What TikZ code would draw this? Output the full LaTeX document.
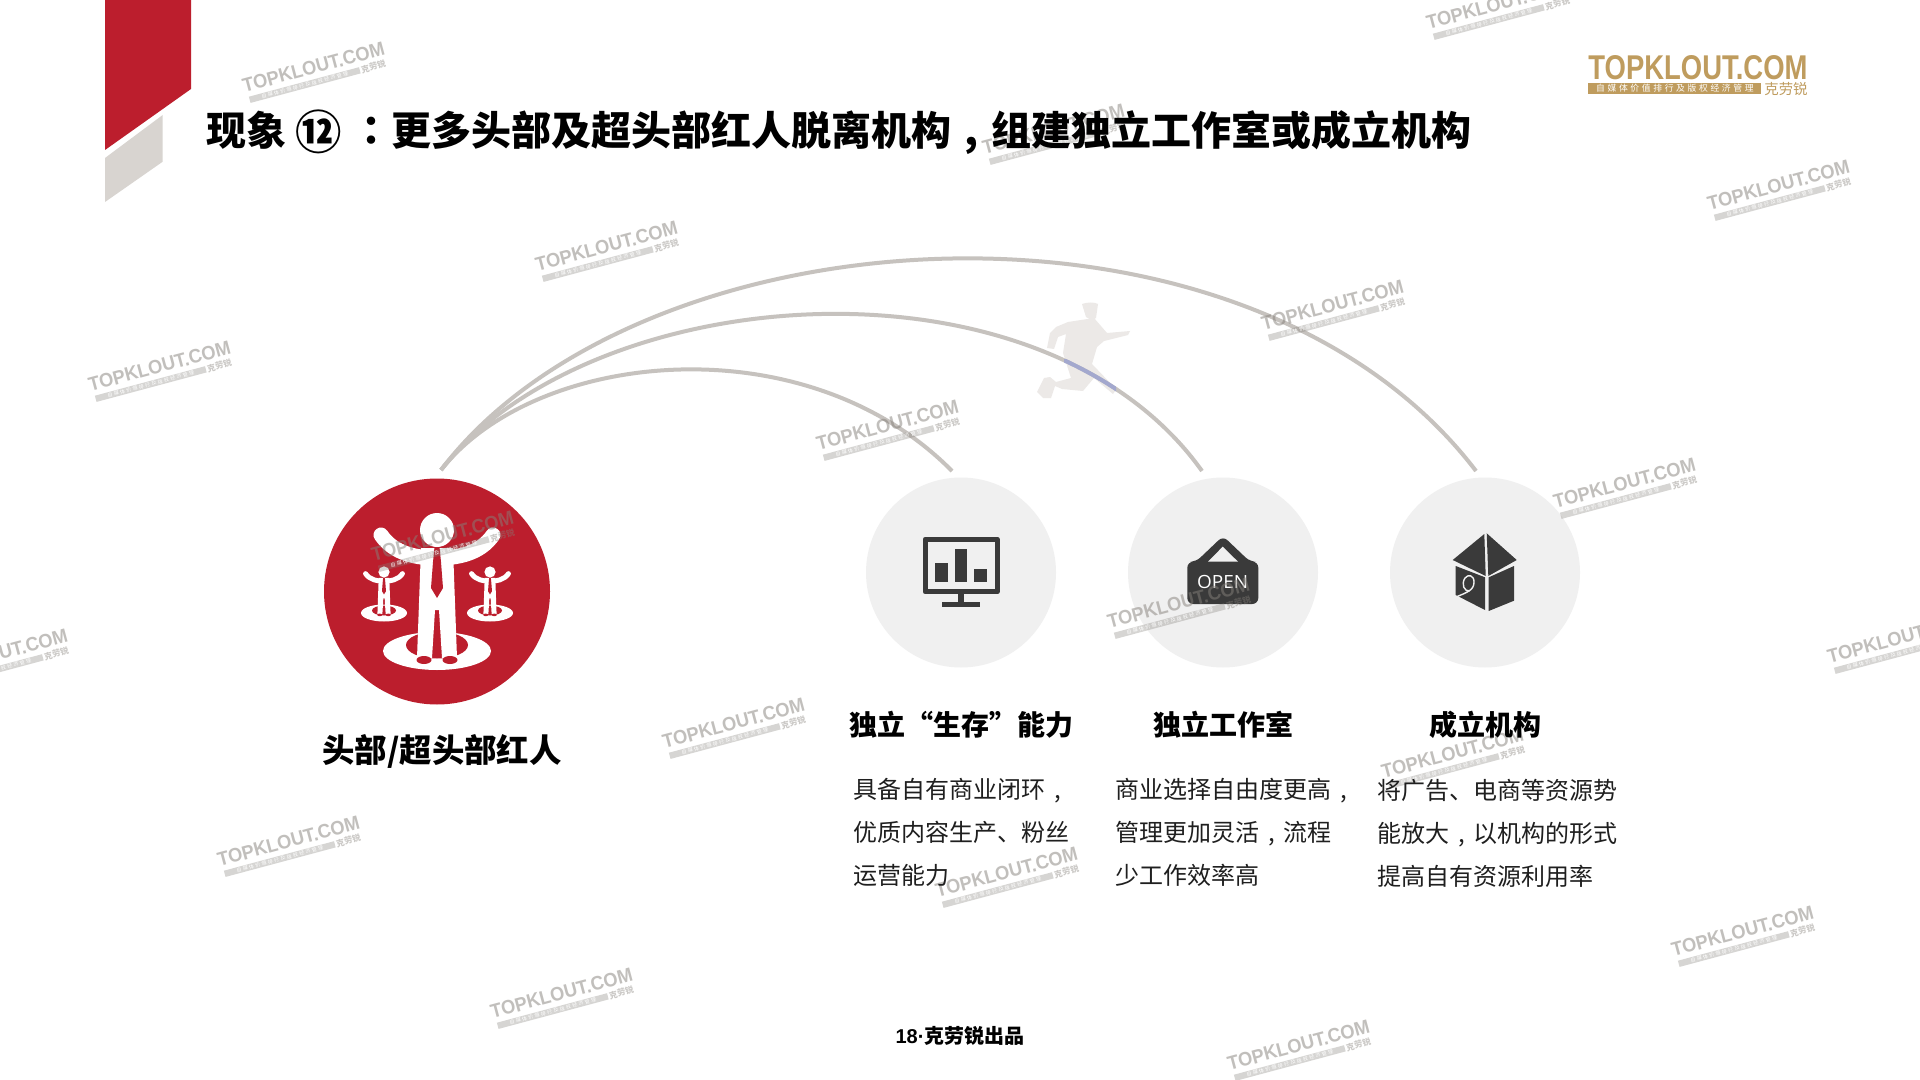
\documentclass[tikz,border=0pt]{standalone}
\usepackage{fontspec}
\setmainfont{Noto Sans CJK SC}
\newfontfamily\tcfont{Noto Sans CJK TC}
\newfontfamily\spacedcn{Noto Sans CJK SC}[LetterSpace=30]
\newfontfamily\latinbold{Liberation Sans}[BoldFont={Liberation Sans Bold}]
\newfontfamily\openfont{Open Sans}
\definecolor{brandred}{HTML}{BC1E2D}
\definecolor{paleband}{HTML}{D8D4D0}
\definecolor{arcgrey}{HTML}{C6C2BE}
\definecolor{discgrey}{HTML}{F0F0F0}
\definecolor{icondark}{HTML}{3A3A3A}
\definecolor{gold}{HTML}{BF9C5E}
\definecolor{markgrey}{HTML}{85807A}
\definecolor{runner}{HTML}{ECE9E7}
\definecolor{runnerblue}{HTML}{A3A8CE}
\newcommand{\fs}[2]{\fontsize{#1}{#2}\selectfont}
\newcommand{\pc}{\makebox[1em][c]{,}}
\tikzset{
  x=0.5pt,y=-0.5pt,
  bigdisc/.style={circle,fill=brandred,minimum size=113pt,inner sep=0pt},
  greydisc/.style={circle,fill=discgrey,minimum size=95pt,inner sep=0pt},
  linkarc/.style={draw=arcgrey,line width=2pt},
  heading/.style={font=\bfseries\fs{14}{18},text=black,inner sep=0pt},
  bodytext/.style={font=\fs{12}{21.4},text=black!88,align=left,anchor=north west,inner sep=0pt},
  iconfill/.style={fill=icondark,draw=none},
}
\newcommand{\wmark}[3]{%
  \begin{scope}[shift={(#2+2,#3)},rotate=15,transform shape]
    \node[inner sep=0pt,text=markgrey,opacity=.5] (wt#1) at (0,-6) {\resizebox{73pt}{6.8pt}{\latinbold\bfseries TOPKLOUT.COM}};
    \node[inner sep=0pt,fill=markgrey,opacity=.33,minimum width=57pt,minimum height=3.2pt] (wb#1) at (-13,9) {};
    \node[inner sep=0pt,text=white,font=\spacedcn\fs{2.5}{3}] (wd#1) at (-13,9) {自媒体价值排行及版权经济管理};
    \node[inner sep=0pt,text=markgrey,opacity=.42,font=\bfseries\fs{4.2}{5}] (wc#1) at (58,9) {克劳锐};
  \end{scope}}
\newcommand{\person}[3]{%
  \begin{scope}[shift={(#1,#2)},scale=#3]
    \draw[white,line width={7.5pt*#3},line cap=round]
      (-56,5) .. controls (-43,24) and (-20,28) .. (0,28) .. controls (20,28) and (43,24) .. (56,5);
    \fill[white] (-16,18) -- (16,18) -- (20,128) -- (5,128) -- (2,80) -- (-2,80) -- (-5,128) -- (-20,128) -- cycle;
    \fill[brandred] (-13,130) ellipse [x radius=7.5,y radius=4];
    \fill[brandred] (13,130) ellipse [x radius=7.5,y radius=4];
    \fill[brandred] (-2.5,17) -- (2.5,17) -- (4,32) -- (6,58) -- (0,68) -- (-6,58) -- (-4,32) -- cycle;
    \fill[white] (0,0) circle [radius=17];
  \end{scope}}
\newcommand{\arcone}{(441,470) .. controls (535,350) and (805,322) .. (c1top)}
\newcommand{\arctwo}{(441,470) .. controls (590,280) and (1040,244) .. (c2top)}
\newcommand{\arcthree}{(441,470) .. controls (640,208) and (1245,168) .. (c3top)}
\begin{document}
\begin{tikzpicture}
\path[use as bounding box,fill=white] (0,0) rectangle (1920,1080);
\clip (0,0) rectangle (1920,1080);

% corner bands
\fill[brandred] (105,0) -- (191,0) -- (191,89) -- (105,150) -- cycle;
\fill[paleband] (105,158) -- (162.7,115) -- (162.7,161.7) -- (105,202) -- cycle;

% runner
\fill[runner] (1082,304) .. controls (1088,302) and (1094,302) .. (1098,304) -- (1096,318) .. controls (1094,320) and (1090,320) .. (1086,317) -- cycle;
\fill[runner] (1068,322) -- (1094,318) -- (1107,333) -- (1130,331) -- (1128,335) -- (1104,341) -- (1097,347) -- (1092,364) -- (1115,388) -- (1118,387) -- (1113,394) -- (1094,378) -- (1088,385) -- (1083,391) -- (1062,389) -- (1055,386) -- (1051,398) -- (1043,398) -- (1037,392) -- (1044,378) -- (1050,377) -- (1056,382) -- (1071,378) -- (1063,353) -- (1066,334) -- (1058,337) -- (1054,349) -- (1047,348) -- (1050,333) -- (1056,327) -- cycle;

% connector arcs
\node[bigdisc] (root) at (437,591.5) {};
\node[greydisc] (c1) at (961,572.5) {};
\node[greydisc] (c2) at (1223,572.5) {};
\node[greydisc] (c3) at (1485,572.5) {};
\coordinate (c1top) at (952,471);
\coordinate (c2top) at (1202,471);
\coordinate (c3top) at (1476,471);
\draw[linkarc] \arcone;
\draw[linkarc] \arctwo;
\draw[linkarc] \arcthree;
\begin{scope}
  \clip (1064,360) rectangle (1116,396);
  \draw[draw=runnerblue,line width=2pt] \arctwo;
\end{scope}

% central figures
\fill[white] (437,651) ellipse [x radius=54,y radius=19];
\fill[brandred] (437,645) ellipse [x radius=31,y radius=13.5];
\person{437}{530}{1}
\fill[white] (384,613) ellipse [x radius=23,y radius=8.5];
\fill[brandred] (384,610.5) ellipse [x radius=12,y radius=5];
\person{384}{572}{.33}
\fill[white] (490,613) ellipse [x radius=23,y radius=8.5];
\fill[brandred] (490,610.5) ellipse [x radius=12,y radius=5];
\person{490}{572}{.33}

% monitor icon
\draw[icondark,line width=2.5pt,line join=round] (925,539.2) rectangle (997.2,591.8);
\fill[icondark] (935,562.7) rectangle (948.3,581.7);
\fill[icondark] (954.7,549.3) rectangle (967.3,581.7);
\fill[icondark] (974,568.7) rectangle (986.7,581.7);
\fill[icondark] (958.3,594) rectangle (964,603);
\fill[icondark] (941.7,602) rectangle (980.3,607);

% open sign icon
\fill[iconfill,rounded corners=3pt] (1187.3,561.7) -- (1196,561.7) -- (1223,536) -- (1250,561.7) -- (1258.3,561.7) -- (1258.3,604) -- (1187.3,604) -- cycle;
\fill[discgrey] (1208,561.7) -- (1222.7,546.7) -- (1238,561.7) -- cycle;
\node[inner sep=0pt,text=white] (opentxt) at (1222.7,582.3) {\resizebox{25.5pt}{6.6pt}{\openfont OPEN}};

% house icon
\fill[iconfill] (1484.3,534) -- (1452.7,560) -- (1485.7,576) -- cycle;
\fill[iconfill] (1486.7,533.3) -- (1516.7,560) -- (1488.3,576) -- cycle;
\fill[iconfill] (1455.7,566) -- (1485,577.3) -- (1485,610) -- (1455.7,595) -- cycle;
\fill[iconfill] (1488.7,577.3) -- (1514,566) -- (1514,600.7) -- (1488.7,611) -- cycle;
\draw[discgrey,line width=.7pt] (1456,597) .. controls (1468,592) and (1474,590) .. (1474,582) .. controls (1474,575) and (1468,574) .. (1465,578) .. controls (1461,584) and (1464,592) .. (1470,591);

% logo
\node[inner sep=0pt,text=gold,anchor=west] (logotext) at (1588,68) {\resizebox{109.5pt}{12pt}{\latinbold\bfseries TOPKLOUT.COM}};
\node[inner sep=0pt,fill=gold,minimum width=86.5pt,minimum height=5.5pt,anchor=west] (logobar) at (1588,88.5) {};
\node[inner sep=0pt,text=white,font=\spacedcn\fs{4.4}{5}] (logobartext) at (logobar) {自媒体价值排行及版权经济管理};
\node[inner sep=0pt,text=gold,anchor=west,font=\fs{7.2}{8}] (logocn) at (1764,89) {克劳锐};

% watermarks
\wmark{a}{313}{73}
\wmark{b}{1497}{10}
\wmark{c}{1778}{191}
\wmark{d}{606}{252}
\wmark{e}{1332}{311}
\wmark{f}{159}{372}
\wmark{g}{887}{431}
\wmark{h}{1624}{489}
\wmark{i}{-4}{660}
\wmark{j}{1898}{644}
\wmark{k}{733}{729}
\wmark{l}{288}{847}
\wmark{m}{1452}{759}
\wmark{n}{1006}{878}
\wmark{o}{1742}{937}
\wmark{p}{561}{999}
\wmark{q}{1298}{1051}
\wmark{r}{1178}{609}
\wmark{s}{442}{542}
\wmark{t}{1053}{135}

% title
\node[inner sep=0pt,anchor=west,text=black,font=\bfseries\fs{20}{24}] (title) at (206,132)
  {现象 \raisebox{-.09em}{\scalebox{1.16}{⑫}} {\tcfont ：}更多头部及超头部红人脱离机构\pc 组建独立工作室或成立机构};

% labels
\node[heading,font=\bfseries\fs{16.2}{20}] (rootlabel) at (442,751) {头部/超头部红人};
\node[heading] (h1) at (961,725) {独立“生存”能力};
\node[heading] (h2) at (1223,725) {独立工作室};
\node[heading] (h3) at (1485,725) {成立机构};
\node[bodytext] (b1) at (853,778) {具备自有商业闭环\pc\\优质内容生产、粉丝\\运营能力};
\node[bodytext] (b2) at (1115,778) {商业选择自由度更高\pc\\管理更加灵活\pc 流程\\少工作效率高};
\node[bodytext] (b3) at (1377,779) {将广告、电商等资源势\\能放大\pc 以机构的形式\\提高自有资源利用率};
\node[inner sep=0pt,text=black,font=\bfseries\fs{10}{12}] (foot) at (960,1036) {{\latinbold\bfseries 18·}克劳锐出品};
\end{tikzpicture}
\end{document}
